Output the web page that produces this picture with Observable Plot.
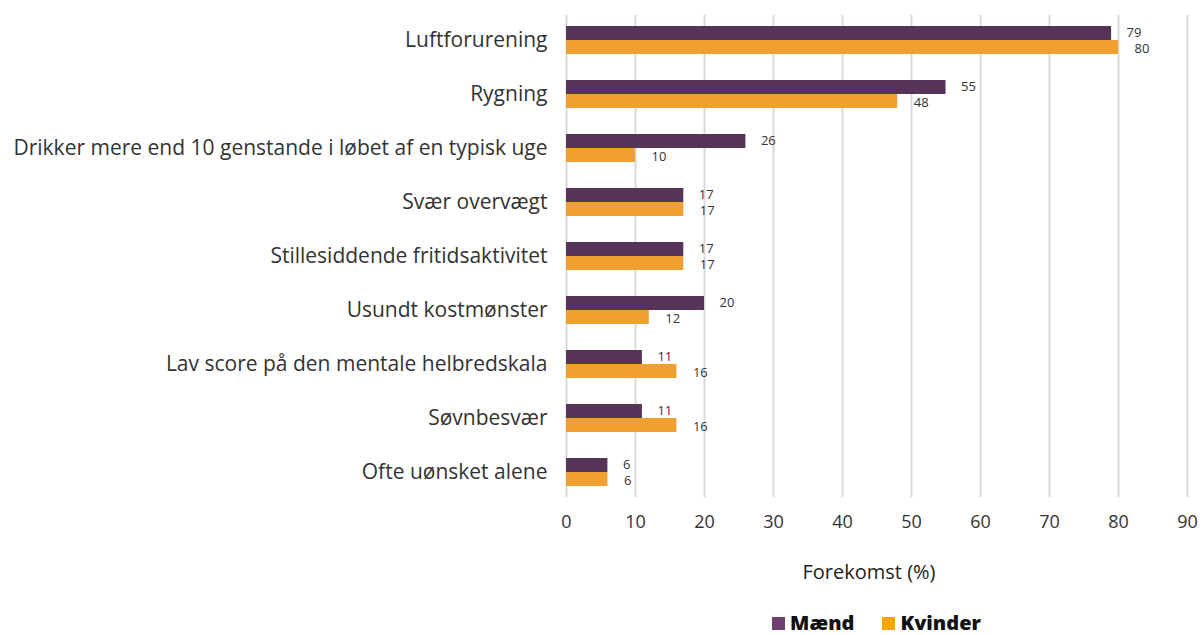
<!DOCTYPE html>
<html>
<head>
<meta charset="utf-8">
<script src="https://cdn.jsdelivr.net/npm/d3@7"></script>
<script src="https://cdn.jsdelivr.net/npm/@observablehq/plot@0.6"></script>
<style>
  body { margin: 0; background: #fff; font-family: "Open Sans", Lato, sans-serif; }
  #wrap { position: relative; width: 1203px; height: 635px; overflow: hidden; }
  #legend { position: absolute; top: 612px; left: 566px; width: 621px; height: 22px; display: flex; justify-content: center; align-items: center; gap: 28px; font-weight: 800; font-size: 20px; line-height: 22px; color: #111; font-family: "Open Sans", Lato, sans-serif; }
  #legend span.item { display: flex; align-items: center; gap: 5px; }
  #legend span.sw { display: inline-block; width: 13px; height: 13px; }
</style>
</head>
<body>
<div id="wrap">
  <div id="chart"></div>
  <div id="legend"></div>
</div>
<script>
const categories = [
  "Luftforurening",
  "Rygning",
  "Drikker mere end 10 genstande i løbet af en typisk uge",
  "Svær overvægt",
  "Stillesiddende fritidsaktivitet",
  "Usundt kostmønster",
  "Lav score på den mentale helbredskala",
  "Søvnbesvær",
  "Ofte uønsket alene"
];
const maend = [79, 55, 26, 17, 17, 20, 11, 11, 6];
const kvinder = [80, 48, 10, 17, 17, 12, 16, 16, 6];
const xTicks = [0, 10, 20, 30, 40, 50, 60, 70, 80, 90];
const seriesNames = ["Mænd", "Kvinder"];
const xLabel = "Forekomst (%)";

const colM = "#553457";
const colK = "#efa030";

const dataM = categories.map((c, i) => ({cat: c, value: maend[i]}));
const dataK = categories.map((c, i) => ({cat: c, value: kvinder[i]}));

const chart = Plot.plot({
  width: 1203,
  height: 600,
  marginLeft: 566,
  marginRight: 16,
  marginTop: 15,
  marginBottom: 103,
  style: {fontFamily: "'Open Sans', Lato, sans-serif", color: "#333", background: "#fff"},
  x: {domain: [0, 90], ticks: xTicks, tickSize: 0, tickPadding: 18, label: null},
  y: {domain: categories, paddingInner: 0.48, paddingOuter: 0.2, tickSize: 0, tickPadding: 19, label: null},
  marks: [
    Plot.ruleX(xTicks, {x: d => d, stroke: "#d9d9d9", strokeWidth: 2}),
    Plot.barX(dataM, {y: "cat", x: "value", fill: colM, insetBottom: 14, insetTop: 0}),
    Plot.barX(dataK, {y: "cat", x: "value", fill: colK, insetTop: 14, insetBottom: 0}),
    Plot.text(dataM, {y: "cat", x: "value", text: d => String(d.value), textAnchor: "start", dx: 15, dy: -8, fontSize: 13, fill: "#333"}),
    Plot.text(dataK, {y: "cat", x: "value", text: d => String(d.value), textAnchor: "start", dx: 16, dy: 8.5, fontSize: 13, fill: "#333"}),
    Plot.text([xLabel], {frameAnchor: "bottom", text: d => d, dy: 81, dx: -8, fontSize: 20, fill: "#222"})
  ]
});
chart.querySelectorAll("g[aria-label='y-axis tick label'], g[aria-label='y-axis']").forEach(g => g.setAttribute("font-size", "21"));
chart.querySelectorAll("g[aria-label='x-axis tick label'], g[aria-label='x-axis']").forEach(g => g.setAttribute("font-size", "18"));
chart.querySelectorAll("g[aria-label='y-axis tick label'] text, g[aria-label='y-axis'] text").forEach(t => t.setAttribute("font-size", "21"));
chart.querySelectorAll("g[aria-label='x-axis tick label'] text, g[aria-label='x-axis'] text").forEach(t => t.setAttribute("font-size", "18"));
document.getElementById("chart").appendChild(chart);

const legendCols = ["#6e3f70", "#f7a600"];
const legend = document.getElementById("legend");
seriesNames.forEach((name, i) => {
  const item = document.createElement("span");
  item.className = "item";
  const sw = document.createElement("span");
  sw.className = "sw";
  sw.style.background = legendCols[i];
  item.appendChild(sw);
  item.appendChild(document.createTextNode(name));
  legend.appendChild(item);
});
</script>
</body>
</html>
